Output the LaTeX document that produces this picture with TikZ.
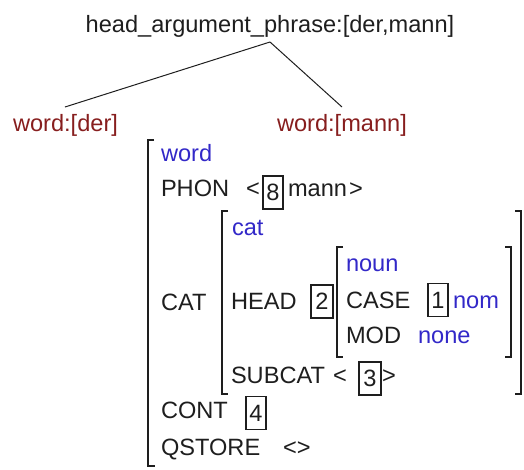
\documentclass[tikz,border=0pt]{standalone}
\usepackage{fontspec}
\setmainfont{Liberation Sans}
\definecolor{avmblue}{RGB}{50,40,200}
\definecolor{treered}{RGB}{135,30,30}
\definecolor{txt}{RGB}{30,30,30}
\begin{document}
\begin{tikzpicture}[x=1pt,y=-1pt,
  every node/.style={inner sep=0pt,outer sep=0pt,text=txt,font=\fontsize{23.6}{28}\selectfont},
  lbl/.style={anchor=base west},
  typ/.style={anchor=base west,text=avmblue},
  treelbl/.style={anchor=base west,text=treered},
  tag/.style={draw=txt,line width=1.1pt,minimum width=20pt,minimum height=33pt,anchor=center},
  brk/.style={draw=txt,line width=1.2pt},
  edge/.style={draw=txt,line width=1pt}]
\useasboundingbox (0,0) rectangle (524,469);
% tree
\node[anchor=base] (root) at (270,32) {head\_argument\_phrase:[der,mann]};
\node[treelbl] (der) at (13,131) {word:[der]};
\node[treelbl] (mann) at (277,131) {word:[mann]};
\coordinate (rootb) at (270,42);
\coordinate (dert) at (65,107);
\coordinate (mannt) at (342,107);
\draw[edge] (rootb) -- (dert);
\draw[edge] (rootb) -- (mannt);
% outer AVM bracket (left only)
\draw[brk] (154,140) -- (148,140) -- (148,466) -- (155,466);
\node[typ] (tword) at (161,161) {word};
\node[lbl] (phon) at (161,196) {PHON};
\node[lbl] (lt1) at (246,196) {<};
\node[tag] (t8) at (273,192.5) {8};
\node[lbl] (mannv) at (288,196) {mann};
\node[lbl] (gt1) at (349,196) {>};
% CAT
\node[lbl] (cat) at (161,310) {CAT};
\draw[brk] (228,211) -- (222,211) -- (222,394) -- (228,394);
\draw[brk] (515,211) -- (521,211) -- (521,394) -- (515,394);
\node[typ] (tcat) at (232,235) {cat};
\node[lbl] (head) at (231,309) {HEAD};
\node[tag,minimum width=22pt] (t2) at (322,301.5) {2};
% HEAD value
\draw[brk] (343,247) -- (337,247) -- (337,357) -- (343,357);
\node[typ] (tnoun) at (346,271) {noun};
\node[lbl] (case) at (346,308) {CASE};
\node[tag] (t1) at (438,300) {1};
\node[typ] (nom) at (453,308) {nom};
\node[lbl] (mod) at (346,343) {MOD};
\node[typ] (none) at (418,343) {none};
\draw[brk] (505,247) -- (511,247) -- (511,357) -- (505,357);
\node[lbl] (subcat) at (231,383) {SUBCAT};
\node[lbl] (lt2) at (333,383) {<};
\node[tag,minimum width=22pt] (t3) at (370,378.5) {3};
\node[lbl] (gt2) at (382,383) {>};
% CONT, QSTORE
\node[lbl] (cont) at (161,418) {CONT};
\node[tag] (t4) at (256,413) {4};
\node[lbl] (qstore) at (161,455) {QSTORE};
\node[lbl] (qv) at (283,455) {<>};
\end{tikzpicture}
\end{document}
